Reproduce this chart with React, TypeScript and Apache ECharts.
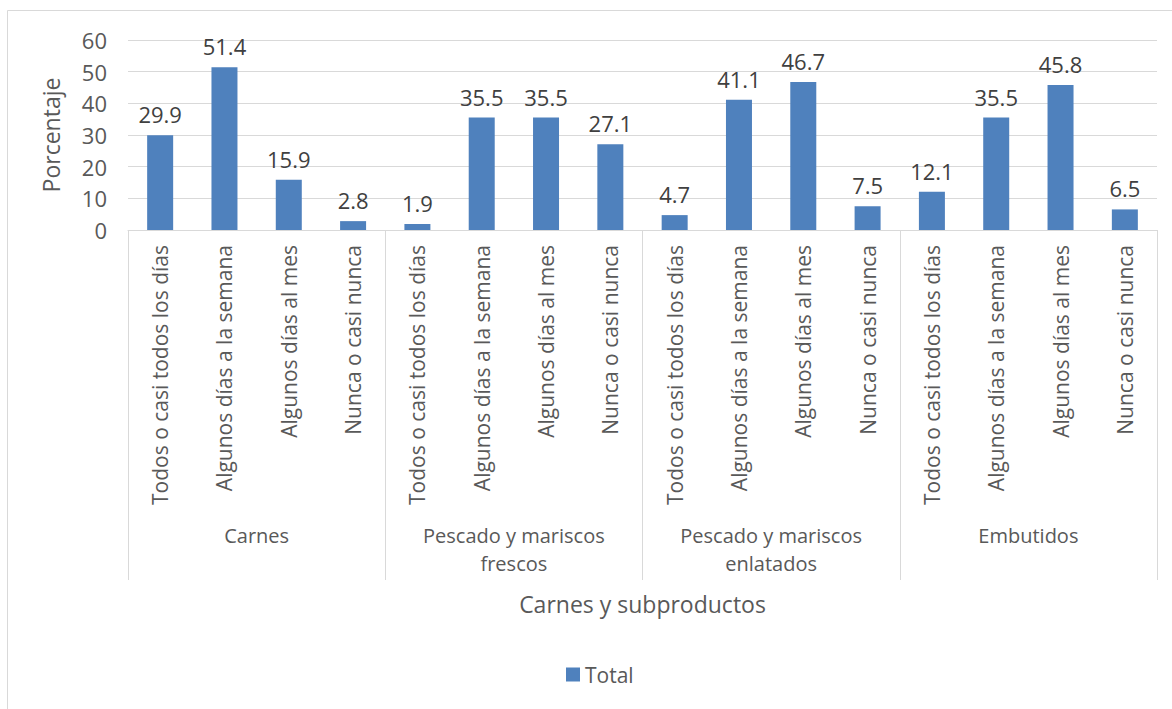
import React, { useEffect, useRef } from "react";
import * as echarts from "echarts";

const subCategories = [
  "Todos o casi todos los días",
  "Algunos días a la semana",
  "Algunos días al mes",
  "Nunca o casi nunca",
];
const groups = ["Carnes", "Pescado y mariscos\nfrescos", "Pescado y mariscos\nenlatados", "Embutidos"];
const carnes = [29.9, 51.4, 15.9, 2.8];
const pescadoFrescos = [1.9, 35.5, 35.5, 27.1];
const pescadoEnlatados = [4.7, 41.1, 46.7, 7.5];
const embutidos = [12.1, 35.5, 45.8, 6.5];
const yTicks = { min: 0, max: 60, interval: 10 };
const seriesName = "Total";
const xTitle = "Carnes y subproductos";
const yTitle = "Porcentaje";

const FONT = "Open Sans";
const GRAY = "#595959";
const LINE = "#d9d9d9";

export default function App() {
  const ref = useRef<HTMLDivElement>(null);
  useEffect(() => {
    if (!ref.current) return;
    const chart = echarts.init(ref.current, null, { renderer: "svg" });
    const cats: string[] = [];
    groups.forEach(() => subCategories.forEach((s) => cats.push(s)));
    const values = [...carnes, ...pescadoFrescos, ...pescadoEnlatados, ...embutidos];
    chart.setOption({
      animation: false,
      textStyle: { fontFamily: FONT },
      graphic: [
        {
          type: "rect",
          shape: { x: 7.5, y: 10.5, width: 1300, height: 900 },
          style: { fill: "none", stroke: LINE, lineWidth: 1 },
          silent: true,
        },
      ],
      grid: { left: 128, right: 15, top: 40, bottom: 479, containLabel: false },
      legend: {
        data: [seriesName],
        left: 561,
        top: 659,
        itemWidth: 14,
        itemHeight: 14,
        itemGap: 6,
        textStyle: { fontSize: 21, color: GRAY, fontFamily: FONT },
        icon: "rect",
      },
      xAxis: [
        {
          type: "category",
          data: cats,
          position: "bottom",
          axisLine: { show: true, lineStyle: { color: LINE, width: 1 } },
          axisTick: { show: false },
          axisLabel: {
            interval: 0,
            rotate: 90,
            margin: 15,
            fontSize: 21,
            color: GRAY,
            fontFamily: FONT,
          },
        },
        {
          type: "category",
          data: groups,
          position: "bottom",
          axisLine: { show: false },
          axisTick: { show: true, length: 350, interval: 0, lineStyle: { color: LINE, width: 1 } },
          axisLabel: {
            interval: 0,
            margin: 291,
            fontSize: 20,
            lineHeight: 28,
            color: GRAY,
            fontFamily: FONT,
            verticalAlign: "top",
          },
          name: xTitle,
          nameLocation: "middle",
          nameGap: 362,
          nameTextStyle: { fontSize: 23, color: GRAY, fontFamily: FONT },
        },
      ],
      yAxis: {
        type: "value",
        min: yTicks.min,
        max: yTicks.max,
        interval: yTicks.interval,
        axisLine: { show: false },
        axisTick: { show: false },
        splitLine: { lineStyle: { color: LINE, width: 1 } },
        axisLabel: { fontSize: 22, color: GRAY, margin: 21, fontFamily: FONT },
        name: yTitle,
        nameLocation: "middle",
        nameGap: 66,
        nameTextStyle: { fontSize: 23, color: GRAY, fontFamily: FONT },
      },
      series: [
        {
          name: seriesName,
          type: "bar",
          xAxisIndex: 0,
          data: values,
          barWidth: 26,
          itemStyle: { color: "#4f81bd" },
          label: {
            show: true,
            position: "top",
            distance: 10,
            fontSize: 22,
            color: "#404040",
            fontFamily: FONT,
            formatter: (p: any) => p.value.toFixed(1),
          },
        },
      ],
    });
    return () => chart.dispose();
  }, []);
  return (
    <div
      ref={ref}
      style={{ position: "fixed", left: 0, top: 0, width: 1172, height: 709, background: "#fff" }}
    />
  );
}
